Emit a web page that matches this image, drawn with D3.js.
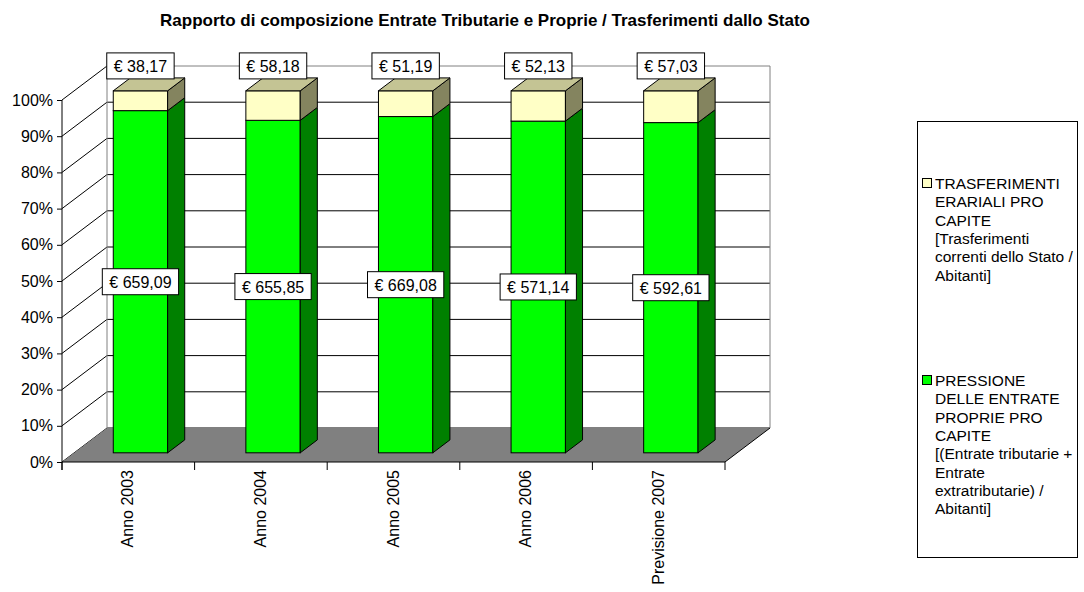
<!DOCTYPE html>
<html><head><meta charset="utf-8">
<script src="https://cdn.jsdelivr.net/npm/d3@7"></script>
<style>
body{margin:0;background:#fff;}
text{font-family:Arial,"Liberation Sans",sans-serif;}
</style></head>
<body><svg id="c" width="1084" height="592"></svg>
<script>
const categories = ["Anno 2003","Anno 2004","Anno 2005","Anno 2006","Previsione 2007"];
const proprie = [659.09,655.85,669.08,571.14,592.61];
const trasferimenti = [38.17,58.18,51.19,52.13,57.03];
const yTicks = [0,0.1,0.2,0.3,0.4,0.5,0.6,0.7,0.8,0.9,1];
const title = "Rapporto di composizione Entrate Tributarie e Proprie / Trasferimenti dallo Stato";
const legendTrasf = ["TRASFERIMENTI","ERARIALI PRO","CAPITE","[Trasferimenti","correnti dello Stato /","Abitanti]"];
const legendProprie = ["PRESSIONE","DELLE ENTRATE","PROPRIE PRO","CAPITE","[(Entrate tributarie +","Entrate","extratributarie) /","Abitanti]"];

const svg = d3.select("#c");
const L = 62, R = 725, Y0 = 462, Y1 = 100;
const DX = 45, DY = -34;          // full depth offset
const d1 = 0.27, d2 = 0.65;        // bar depth range

const x = d3.scaleBand().domain(categories).range([L, R]).paddingInner(0.59).paddingOuter(0.295);
const xc = d3.scaleBand().domain(categories).range([L, R]).padding(0);
const y = d3.scaleLinear().domain([0,1]).range([Y0, Y1]);
const it = d3.formatLocale({decimal:",", thousands:".", grouping:[3], currency:["€ ",""]});
const fmt = it.format("$,.2f");

const colors = {
  green:{front:"#00ff00", side:"#008000", top:"#00c000"},
  yellow:{front:"#ffffc6", side:"#84845f", top:"#c4c494"}
};

// title
svg.append("text").attr("x", 485).attr("y", 26).attr("text-anchor","middle")
  .attr("font-size", 17).attr("font-weight","bold").text(title);

const g = svg.append("g");
// back wall
g.append("rect").attr("x", L+DX).attr("y", Y1+DY).attr("width", R-L).attr("height", Y0-Y1)
  .attr("fill","#fff");
// gridlines back wall + side
yTicks.forEach(t => {
  g.append("line").attr("x1", L+DX).attr("x2", R+DX).attr("y1", y(t)+DY).attr("y2", y(t)+DY)
    .attr("stroke", t===1 ? "#808080" : "#000").attr("stroke-width",1);
  g.append("line").attr("x1", L).attr("x2", L+DX).attr("y1", y(t)).attr("y2", y(t)+DY)
    .attr("stroke","#000").attr("stroke-width",1);
});
// wall edges
g.append("line").attr("x1", L+DX).attr("x2", L+DX).attr("y1", Y1+DY).attr("y2", Y0+DY).attr("stroke","#808080");
g.append("line").attr("x1", R+DX).attr("x2", R+DX).attr("y1", Y1+DY).attr("y2", Y0+DY).attr("stroke","#808080");
// floor
g.append("polygon").attr("points", [[L,Y0],[L+DX,Y0+DY],[R+DX,Y0+DY],[R,Y0]].map(p=>p.join(",")).join(" "))
  .attr("fill","#808080").attr("stroke","none");
g.append("polyline").attr("points", [[L,Y0],[R,Y0],[R+DX,Y0+DY]].map(p=>p.join(",")).join(" "))
  .attr("fill","none").attr("stroke","#000");

// y axis
const yAxis = d3.axisLeft(y).tickValues(yTicks).tickFormat(d3.format(".0%")).tickSize(5).tickSizeOuter(0);
const ya = svg.append("g").attr("transform",`translate(${L},0)`).call(yAxis);
ya.select(".domain").remove();
ya.selectAll(".tick line").attr("stroke","#000");
ya.selectAll(".tick text").attr("font-size",16).attr("font-family","Arial, Liberation Sans, sans-serif").attr("fill","#000").attr("x",-9);
svg.append("line").attr("x1",L).attr("x2",L).attr("y1",Y1).attr("y2",Y0+8).attr("stroke","#000");

// x ticks at boundaries
const bounds = categories.map(c => xc(c)).concat([R]);
bounds.forEach(b => svg.append("line").attr("x1",b).attr("x2",b).attr("y1",Y0).attr("y2",Y0+8).attr("stroke","#000"));
// x labels
categories.forEach(c => {
  const cx = xc(c) + xc.bandwidth()/2;
  svg.append("text").attr("transform",`translate(${cx+5},${Y0+8}) rotate(-90)`)
    .attr("text-anchor","end").attr("font-size",16).text(c);
});

// bars
const ox1 = DX*d1, oy1 = DY*d1, ox2 = DX*d2, oy2 = DY*d2;
const bw = x.bandwidth();
const yb = v => y(v) + oy1; // bar plane
function box(gg, xl, v0, v1, col, drawTop) {
  const xr = xl + bw;
  const ft = yb(v1), fb = yb(v0);
  const dx = ox2-ox1, dy = oy2-oy1;
  gg.append("rect").attr("x", xl).attr("y", ft).attr("width", bw).attr("height", fb-ft)
    .attr("fill", col.front).attr("stroke","#000").attr("stroke-width",1);
  gg.append("polygon").attr("points", [[xr,fb],[xr+dx,fb+dy],[xr+dx,ft+dy],[xr,ft]].map(p=>p.join(",")).join(" "))
    .attr("fill", col.side).attr("stroke","#000").attr("stroke-width",1).attr("stroke-linejoin","round");
  if (drawTop) gg.append("polygon").attr("points", [[xl,ft],[xl+dx,ft+dy],[xr+dx,ft+dy],[xr,ft]].map(p=>p.join(",")).join(" "))
    .attr("fill", col.top).attr("stroke","#000").attr("stroke-width",1).attr("stroke-linejoin","round");
}
const labels = [];
categories.forEach((c,i) => {
  const tot = proprie[i] + trasferimenti[i];
  const f = proprie[i]/tot;
  const xl = x(c) + ox1;
  const gg = svg.append("g");
  box(gg, xl, 0, f, colors.green, false);
  box(gg, xl, f, 1, colors.yellow, true);
  labels.push({x: xl + bw/2, y: yb(f/2), t: fmt(proprie[i])});
  labels.push({x: xl + bw/2, y: yb(1) + (oy2-oy1) - 12, t: fmt(trasferimenti[i])});
});
labels.forEach(l => {
  const lg = svg.append("g");
  const tx = lg.append("text").attr("x", l.x).attr("y", l.y + 6).attr("text-anchor","middle")
    .attr("font-size",16).text(l.t);
  const w = tx.node().getComputedTextLength();
  lg.insert("rect","text").attr("x", l.x - w/2 - 7).attr("y", l.y - 13).attr("width", w + 14).attr("height", 26)
    .attr("fill","#fff").attr("stroke","#000").attr("stroke-width",1);
});

// legend
const lgx = 917, lgy = 121, lgw = 160, lgh = 436;
svg.append("rect").attr("x", lgx+0.5).attr("y", lgy+0.5).attr("width", lgw).attr("height", lgh)
  .attr("fill","#fff").attr("stroke","#000");
function legendItem(lines, y0, col) {
  svg.append("rect").attr("x", 922.5).attr("y", y0-10.5).attr("width", 9).attr("height", 9)
    .attr("fill", col).attr("stroke","#000");
  lines.forEach((s,k) => svg.append("text").attr("x", 935).attr("y", y0 + k*18.3).attr("font-size",15.5).text(s));
}
legendItem(legendTrasf, 189, colors.yellow.front);
legendItem(legendProprie, 386, colors.green.front);
</script></body></html>
